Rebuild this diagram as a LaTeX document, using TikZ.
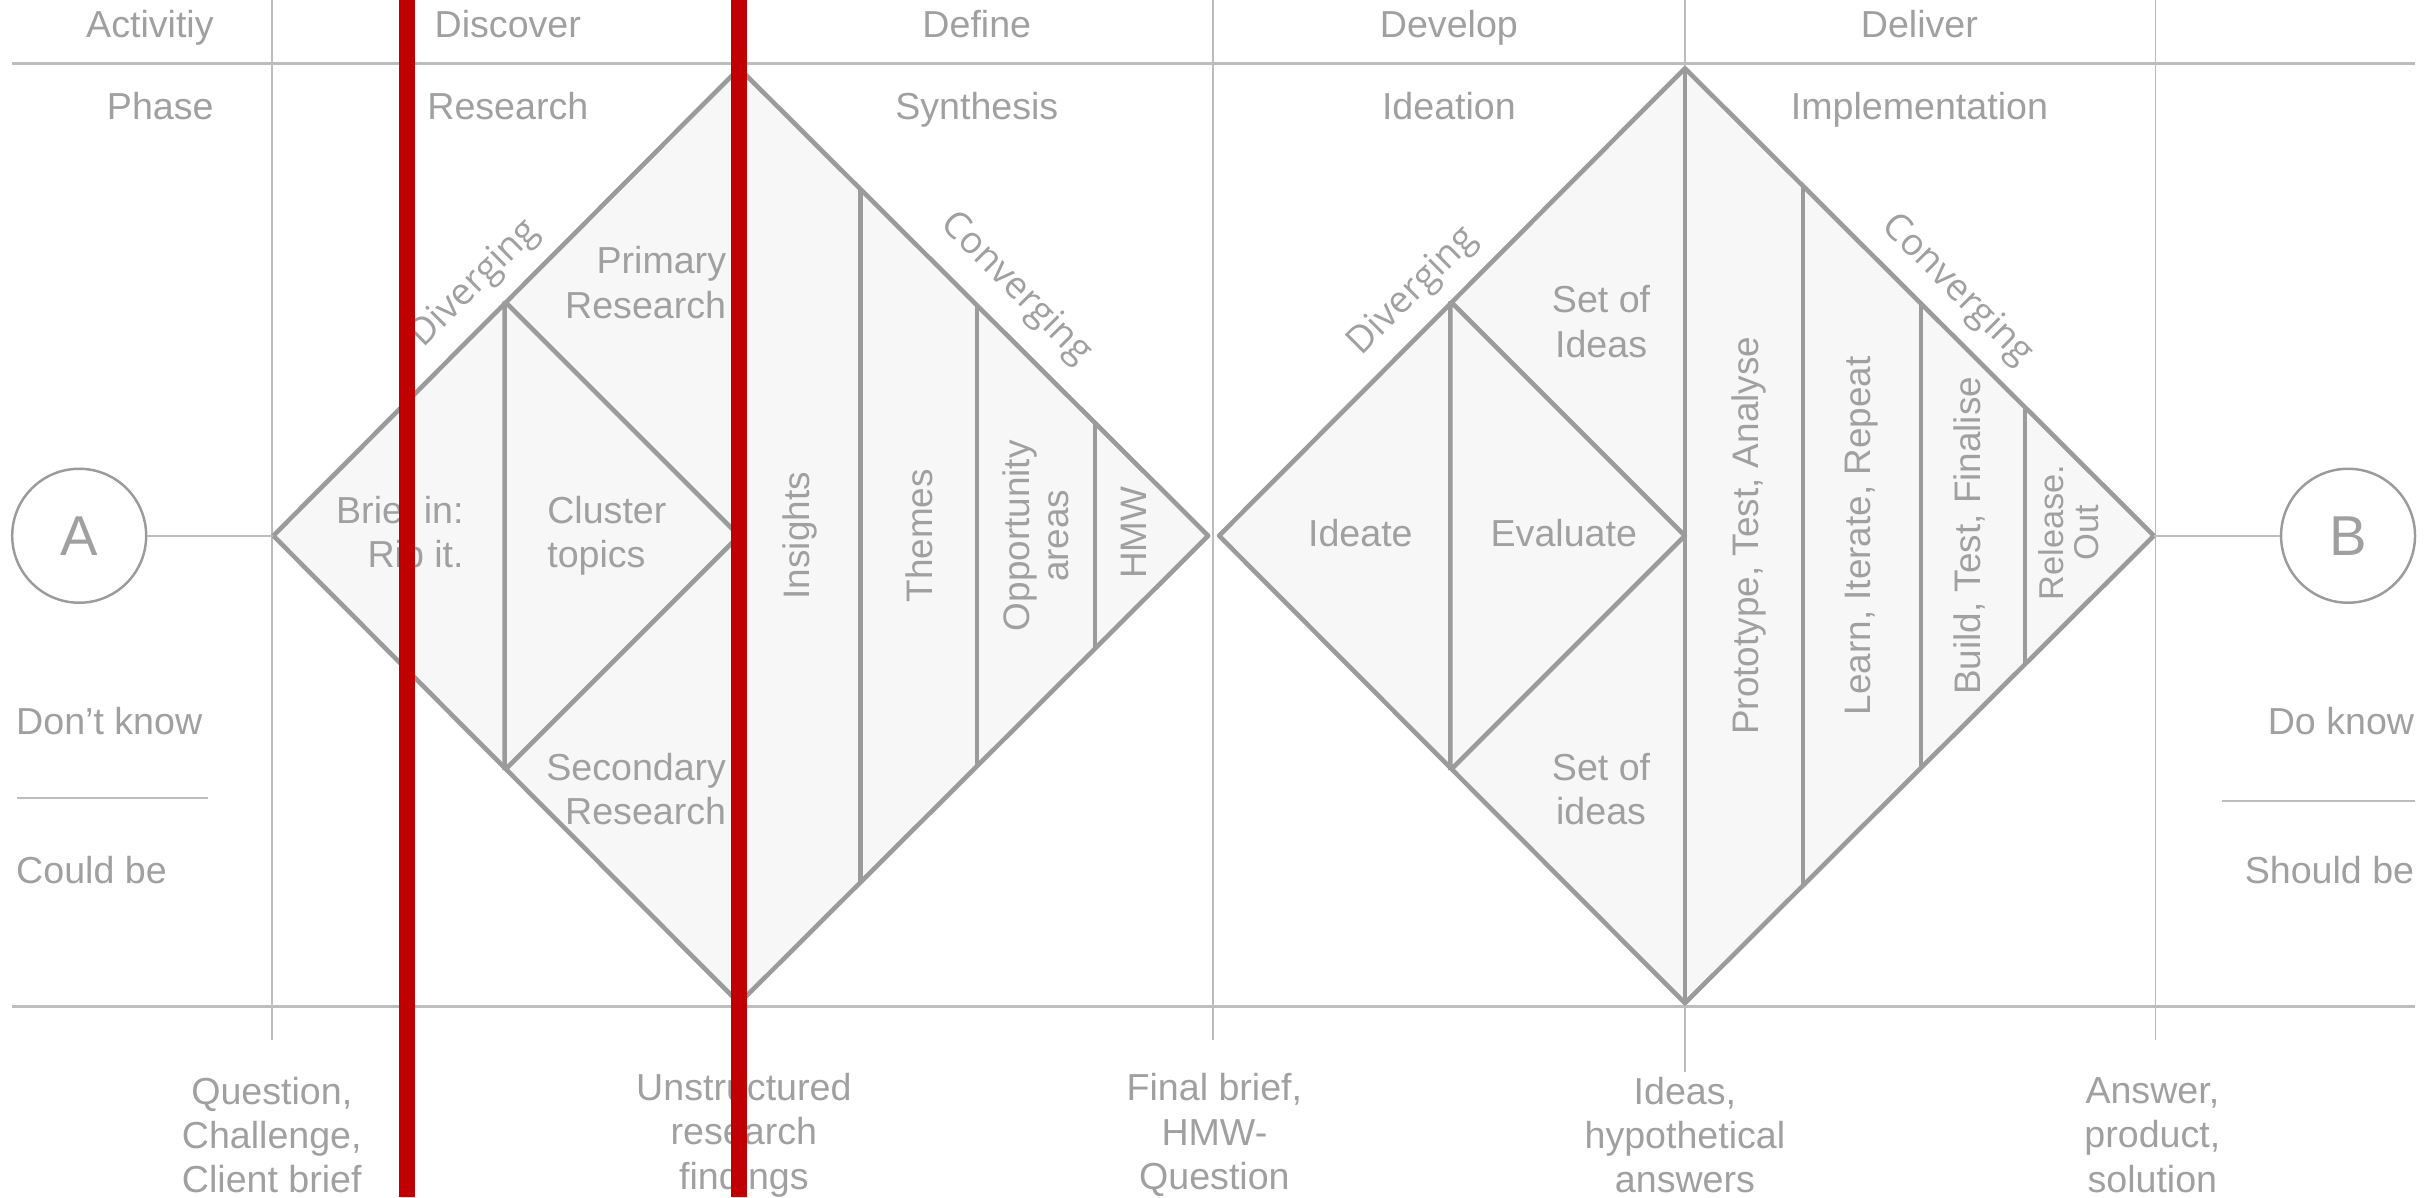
\documentclass[tikz,border=0pt]{standalone}
\usepackage{fontspec}
\setmainfont{Liberation Sans}
\newfontfamily\slantfont{Open Sans}
\usetikzlibrary{positioning, calc}

\definecolor{gridgray}{HTML}{BDBDBD}
\definecolor{linegray}{HTML}{9B9B9B}
\definecolor{textgray}{HTML}{A0A0A0}
\definecolor{fillgray}{HTML}{F7F7F7}
\definecolor{markred}{HTML}{C00000}

\tikzset{
  gridline/.style={draw=gridgray, line width=0.55pt},
  rowline/.style={draw=gridgray, line width=0.9pt},
  outline/.style={draw=linegray, line width=1.3pt, line join=round},
  lbl/.style={text=textgray, inner sep=0pt, align=center, font=\fontsize{10.7}{12.6}\selectfont},
  onelbl/.style={lbl, text height=0.72em, text depth=0pt},
  vlbl/.style={lbl, rotate=90, font=\fontsize{10.5}{11.2}\selectfont},
  edgelbl/.style={lbl, font=\slantfont\fontsize{10.6}{12}\selectfont},
  endpoint/.style={circle, draw=linegray, line width=0.7pt, minimum size=1.34cm, inner sep=0pt, text=textgray, font=\fontsize{16}{16}\selectfont},
  marker/.style={draw=markred, line width=4.4pt}
}

\begin{document}
\begin{tikzpicture}[x=0.01553cm, y=-0.01553cm]
  \useasboundingbox (0,0) rectangle (1568,771);

  % grid
  \foreach \x in {175,781,1388} \draw[gridline] (\x,0) -- (\x,670);
  \draw[gridline] (1085,0) -- (1085,690);
  \draw[rowline] (8,41) -- (1555,41);
  \draw[rowline] (8,648) -- (1555,648);
  \draw[gridline] (11,514) -- (134,514);
  \draw[gridline] (1431,516) -- (1555,516);

  % diamonds
  \foreach \cx/\dm in {476/one, 1085/two} {
    \coordinate (\dm-l) at (\cx-300,345);
    \coordinate (\dm-t) at (\cx,44);
    \coordinate (\dm-r) at (\cx+302,345);
    \coordinate (\dm-b) at (\cx,646);
    \draw[outline, fill=fillgray] (\dm-l) -- (\dm-t) -- (\dm-r) -- (\dm-b) -- cycle;
    \draw[outline] (\dm-t) -- (\dm-b);
    \draw[outline] (\cx-151,194) -- (\cx-151,496) (\cx-151,194) -- (\cx,345) -- (\cx-151,496);
  }
  \foreach \d in {78,153,229} \draw[outline] (476+\d,44+\d) -- (476+\d,646-\d);
  \foreach \d in {76,152,219} \draw[outline] (1085+\d,44+\d) -- (1085+\d,646-\d);

  \node[endpoint] (a) at (51,345) {A};
  \node[endpoint] (b) at (1512,345) {B};
  \draw[gridline] (a) -- (one-l);
  \draw[gridline] (two-r) -- (b);

  % header rows
  \node[onelbl, anchor=east] (activity) at (138,16) {Activitiy};
  \node[onelbl] (discover) at (327,16) {Discover};
  \node[onelbl] (define) at (629,16) {Define};
  \node[onelbl] (develop) at (933,16) {Develop};
  \node[onelbl] (deliver) at (1236,16) {Deliver};
  \node[onelbl, anchor=east] (phase) at (138,69) {Phase};
  \node[onelbl] (research) at (327,69) {Research};
  \node[onelbl] (synthesis) at (629,69) {Synthesis};
  \node[onelbl] (ideation) at (933,69) {Ideation};
  \node[onelbl] (implementation) at (1236,69) {Implementation};

  % first diamond
  \node[edgelbl, rotate=45] (div1) at (306,183) {Diverging};
  \node[edgelbl, rotate=-45] (conv1) at (654,186) {Converging};
  \node[lbl, align=right, anchor=east] (brief) at (299,345) {Brief in:\\Rip it.};
  \node[lbl, align=left, anchor=west] (cluster) at (352,345) {Cluster\\topics};
  \node[lbl, align=right, anchor=east] (primary) at (468,182) {Primary\\Research};
  \node[lbl, align=right, anchor=east] (secondary) at (468,508) {Secondary\\Research};
  \node[vlbl] (insights) at (515,345) {Insights};
  \node[vlbl] (themes) at (592,345) {Themes};
  \node[vlbl] (opportunity) at (667,345) {Opportunity\\areas};
  \node[vlbl] (hmw) at (730,343) {HMW};

  % second diamond
  \node[edgelbl, rotate=45] (div2) at (910,188) {Diverging};
  \node[edgelbl, rotate=-45] (conv2) at (1260,187) {Converging};
  \node[onelbl] (ideate) at (876,344) {Ideate};
  \node[onelbl] (evaluate) at (1007,344) {Evaluate};
  \node[lbl] (setup) at (1031,207) {Set of\\Ideas};
  \node[lbl] (setdown) at (1031,508) {Set of\\ideas};
  \node[vlbl] (prototype) at (1126,345) {Prototype, Test, Analyse};
  \node[vlbl] (learn) at (1199,345) {Learn, Iterate, Repeat};
  \node[vlbl] (build) at (1268,345) {Build, Test, Finalise};
  \node[vlbl, font=\fontsize{9.8}{9.8}\selectfont] (release) at (1332,343) {Release.\\Out};

  % side notes
  \node[onelbl, anchor=west] (dontknow) at (10,465) {Don't know};
  \node[onelbl, anchor=west] (couldbe) at (10,561) {Could be};
  \node[onelbl, anchor=east] (doknow) at (1555,465) {Do know};
  \node[onelbl, anchor=east] (shouldbe) at (1555,561) {Should be};

  % outcomes
  \node[lbl] (question) at (175,731) {Question,\\Challenge,\\Client brief};
  \node[lbl] (unstructured) at (479,731) {Unstructured\\research\\findings};
  \node[lbl] (finalbrief) at (782,731) {Final brief,\\HMW-\\Question};
  \node[lbl] (ideas) at (1085,731) {Ideas,\\hypothetical\\answers};
  \node[lbl] (answer) at (1386,731) {Answer,\\product,\\solution};

  % markers
  \draw[marker] (262,0) -- (262,771);
  \draw[marker] (476,0) -- (476,771);
\end{tikzpicture}
\end{document}
